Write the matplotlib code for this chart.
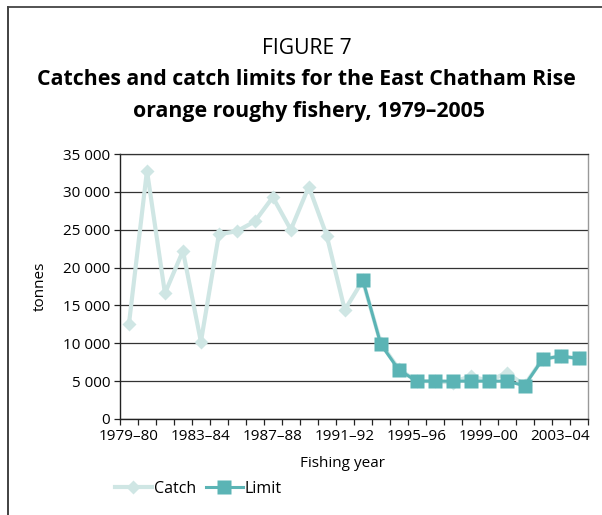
import matplotlib
matplotlib.use("Agg")
import matplotlib.pyplot as plt
from matplotlib.ticker import FixedLocator, FuncFormatter
from matplotlib.lines import Line2D

plt.rcParams['font.family'] = ['Open Sans', 'DejaVu Sans']

years = ["1979–80", "1980–81", "1981–82", "1982–83", "1983–84", "1984–85",
         "1985–86", "1986–87", "1987–88", "1988–89", "1989–90", "1990–91",
         "1991–92", "1992–93", "1993–94", "1994–95", "1995–96", "1996–97",
         "1997–98", "1998–99", "1999–00", "2000–01", "2001–02", "2002–03",
         "2003–04", "2004–05"]
catch = [12600, 32800, 16600, 22200, 10200, 24400, 24800, 26100, 29300,
         25000, 30700, 24200, 14400, 18300, 10000, 6600, 5000, 5000, 4800,
         5700, 5000, 6100, 4500, 7900, 8300, 8000]
limit_years = years[13:]
limit = [18400, 9900, 6500, 5000, 5000, 5000, 5000, 5000, 5000, 4400,
         7900, 8300, 8000]
y_ticks = [0, 5000, 10000, 15000, 20000, 25000, 30000, 35000]
label_years = years[::4]

catch_col = '#cfe6e4'
limit_col = '#5bb4b5'

fig = plt.figure(figsize=(6.02, 5.15), dpi=100)
ax = fig.add_axes([120/602, 1 - 419/515, 467.5/602, 265/515])

xc = list(range(len(years)))
xl = [years.index(y) for y in limit_years]
ax.plot(xc, catch, color=catch_col, lw=3.0, marker='D', ms=7.5,
        mec='none', mfc=catch_col, zorder=3, clip_on=False)
ax.plot(xl, limit, color=limit_col, lw=2.2, marker='s', ms=9.5,
        mec='none', mfc=limit_col, zorder=4, clip_on=False)

ax.set_xlim(-0.5, len(years) - 0.5)
ax.set_ylim(0, 35000)
ax.set_yticks(y_ticks)
ax.yaxis.set_major_formatter(FuncFormatter(lambda v, p: f"{int(v):,}".replace(",", " ")))
ax.yaxis.grid(True, color='#333333', lw=0.9)
ax.set_axisbelow(True)

ax.xaxis.set_major_locator(FixedLocator([years.index(y) for y in label_years]))
ax.set_xticklabels(label_years)
ax.xaxis.set_minor_locator(FixedLocator([i - 0.5 for i in range(len(years) + 1)]))
ax.tick_params(axis='x', which='major', length=0, pad=7, labelsize=11)
ax.tick_params(axis='x', which='minor', length=4, width=0.9, direction='out', color='#222222')
ax.tick_params(axis='y', length=4, width=0.9, direction='out', pad=3, labelsize=11, color='#222222')

for s in ['left', 'bottom']:
    ax.spines[s].set_color('#222222')
    ax.spines[s].set_linewidth(1.0)
ax.spines['top'].set_color('#333333')
ax.spines['top'].set_linewidth(0.9)
ax.spines['right'].set_color('#999999')
ax.spines['right'].set_linewidth(1.0)

ax.set_xlabel("Fishing year", fontsize=11)
ax.xaxis.set_label_coords((342 - 120) / 467.5, -0.14)
ax.set_ylabel("tonnes", fontsize=11)
ax.yaxis.set_label_coords((48 - 120) / 467.5, 0.5)

fig.text(307/602, 1 - 48/515, "FIGURE 7", ha='center', va='center', fontsize=15.2)
fig.text(306/602, 1 - 79/515, "Catches and catch limits for the East Chatham Rise",
         ha='center', va='center', fontsize=15.3, fontweight='bold')
fig.text(309/602, 1 - 111/515, "orange roughy fishery, 1979–2005",
         ha='center', va='center', fontsize=15.3, fontweight='bold')

handles = [Line2D([], [], color=catch_col, lw=3.0, marker='D', ms=7.5, mec='none'),
           Line2D([], [], color=limit_col, lw=2.2, marker='s', ms=9.5, mec='none')]
fig.legend(handles, ["Catch", "Limit"], loc='center left',
           bbox_to_anchor=(115/602, 1 - 489/515), ncol=2, frameon=False,
           fontsize=11.5, handlelength=2.3, handletextpad=0.15, columnspacing=0.6,
           borderaxespad=0, borderpad=0)

# outer frame (top and left)
fig.add_artist(Line2D([8/602, 8/602], [0, 1 - 7/515], color='#333333', lw=1.3,
                      transform=fig.transFigure))
fig.add_artist(Line2D([8/602, 1], [1 - 7/515, 1 - 7/515], color='#444444', lw=1.3,
                      transform=fig.transFigure))

fig.savefig("out.png", dpi=100)
